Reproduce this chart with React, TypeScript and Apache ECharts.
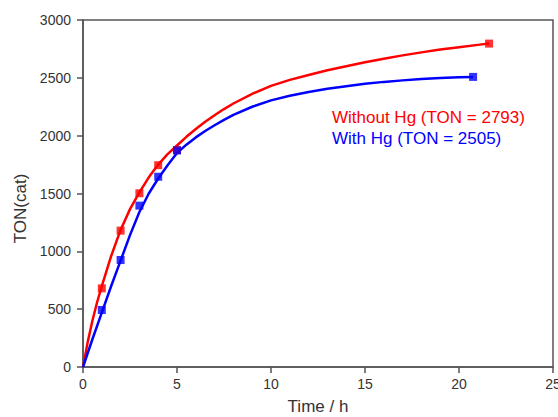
import React, { useEffect, useRef } from "react";
import * as echarts from "echarts";

const RED_NAME = "Without Hg (TON = 2793)";
const BLUE_NAME = "With Hg (TON = 2505)";

// measured points (time h, TON)
const redPointsX = [1, 2, 3, 4, 5, 21.6];
const redPointsY = [680, 1179, 1502, 1745, 1876, 2796];
const bluePointsX = [1, 2, 3, 4, 5, 20.75];
const bluePointsY = [493, 925, 1395, 1645, 1872, 2508];

// fitted curves
const redCurveX = [0, 0.25, 0.5, 0.75, 1, 1.5, 2, 2.5, 3, 3.5, 4, 4.5, 5, 5.5, 6, 6.5, 7, 7.5, 8, 9, 10, 11, 12, 13, 14, 15, 16, 17, 18, 19, 20, 21, 21.6];
const redCurveY = [0, 215, 400, 560, 700, 960, 1185, 1365, 1510, 1640, 1750, 1840, 1915, 1990, 2058, 2120, 2177, 2230, 2278, 2362, 2430, 2482, 2525, 2565, 2600, 2634, 2665, 2694, 2720, 2744, 2765, 2785, 2796];
const blueCurveX = [0, 0.5, 1, 1.5, 2, 2.5, 3, 3.5, 4, 4.5, 5, 5.5, 6, 6.5, 7, 7.5, 8, 9, 10, 11, 12, 13, 14, 15, 16, 17, 18, 19, 20, 20.75];
const blueCurveY = [0, 240, 470, 700, 920, 1140, 1340, 1500, 1630, 1745, 1850, 1922, 1985, 2040, 2090, 2137, 2180, 2250, 2305, 2345, 2378, 2405, 2428, 2448, 2465, 2478, 2490, 2499, 2506, 2508];

const xTicks = { min: 0, max: 25, interval: 5 };
const yTicks = { min: 0, max: 3000, interval: 500 };

const zip = (xs: number[], ys: number[]) => xs.map((x, i) => [x, ys[i]]);

const FONT = "Liberation Sans, Arial, sans-serif";
const AXIS_COLOR = "#555";
const LABEL_COLOR = "#333";

export default function App() {
  const ref = useRef<HTMLDivElement>(null);
  useEffect(() => {
    if (!ref.current) return;
    const chart = echarts.init(ref.current, null, { renderer: "svg" });
    chart.setOption({
      animation: false,
      backgroundColor: "#fff",
      textStyle: { fontFamily: FONT },
      grid: {
        left: 83,
        top: 20,
        right: 5,
        bottom: 50,
        containLabel: false,
        outerBoundsMode: "none",
        show: true,
        borderColor: AXIS_COLOR,
        borderWidth: 1.5,
        backgroundColor: "transparent",
      },
      legend: {
        left: 322,
        top: 104,
        orient: "vertical",
        icon: "none",
        itemWidth: 0,
        itemHeight: 17,
        itemGap: 3.6,
        selectedMode: false,
        textStyle: { fontSize: 17, fontFamily: FONT },
        data: [
          { name: RED_NAME, textStyle: { color: "#ff0000" } },
          { name: BLUE_NAME, textStyle: { color: "#0000ff" } },
        ],
      },
      xAxis: {
        type: "value",
        min: xTicks.min,
        max: xTicks.max,
        interval: xTicks.interval,
        name: "Time / h",
        nameLocation: "middle",
        nameGap: 31,
        nameTextStyle: { fontSize: 17, color: LABEL_COLOR, fontFamily: FONT },
        axisLine: { show: true, lineStyle: { color: AXIS_COLOR, width: 1.5 } },
        axisTick: { show: true, length: 6, lineStyle: { color: AXIS_COLOR, width: 1.5 } },
        axisLabel: { fontSize: 14, color: LABEL_COLOR, margin: 10, fontFamily: FONT, showMaxLabel: true },
        splitLine: { show: false },
      },
      yAxis: {
        type: "value",
        min: yTicks.min,
        max: yTicks.max,
        interval: yTicks.interval,
        name: "TON(cat)",
        nameLocation: "middle",
        nameGap: 52,
        nameTextStyle: { fontSize: 17, color: LABEL_COLOR, fontFamily: FONT, padding: [0, 30, 0, 0] },
        axisLine: { show: true, lineStyle: { color: AXIS_COLOR, width: 1.5 } },
        axisTick: { show: true, length: 6, lineStyle: { color: AXIS_COLOR, width: 1.5 } },
        axisLabel: {
          fontSize: 14,
          color: LABEL_COLOR,
          margin: 12,
          fontFamily: FONT,
          formatter: (v: number) => String(v),
        },
        splitLine: { show: false },
      },
      series: [
        {
          name: RED_NAME,
          type: "line",
          data: zip(redCurveX, redCurveY),
          smooth: false,
          showSymbol: false,
          lineStyle: { color: "#ff0000", width: 2.5, join: "round" },
          itemStyle: { color: "#ff0000" },
          z: 2,
        },
        {
          name: BLUE_NAME,
          type: "line",
          data: zip(blueCurveX, blueCurveY),
          smooth: false,
          showSymbol: false,
          lineStyle: { color: "#0000ff", width: 2.5, join: "round" },
          itemStyle: { color: "#0000ff" },
          z: 3,
        },
        {
          name: "Without Hg points",
          type: "scatter",
          data: zip(redPointsX, redPointsY),
          symbol: "rect",
          symbolSize: 8,
          itemStyle: { color: "#ff0000" },
          z: 4,
        },
        {
          name: "With Hg points",
          type: "scatter",
          data: zip(bluePointsX, bluePointsY),
          symbol: "rect",
          symbolSize: 8,
          itemStyle: { color: "#0000ff" },
          z: 5,
        },
      ],
    });
    return () => chart.dispose();
  }, []);
  return (
    <div
      ref={ref}
      style={{ position: "fixed", left: 0, top: 0, width: 558, height: 417 }}
    />
  );
}
